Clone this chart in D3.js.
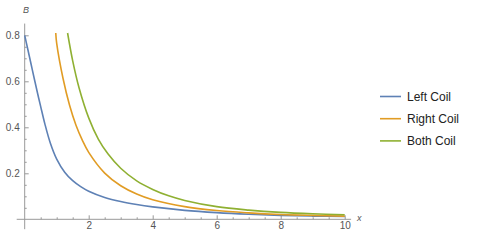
<!DOCTYPE html>
<html>
<head>
<meta charset="utf-8">
<script src="https://cdn.jsdelivr.net/npm/d3@7"></script>
<style>
  body { margin: 0; background: #fff; }
  svg { display: block; }
  text { font-family: "Liberation Sans", Arial, sans-serif; }
</style>
</head>
<body>
<script>
// values
var leftX  = [0, 0.1, 0.2, 0.3, 0.4, 0.5, 0.63, 0.8, 1.0, 1.25, 1.5, 1.75, 2.0, 2.5, 3.0, 3.5, 4.0, 5.0, 6.0, 7.0, 8.0, 9.0, 10];
var leftB  = [0.80, 0.737, 0.674, 0.611, 0.549, 0.49, 0.415, 0.332, 0.262, 0.205, 0.168, 0.142, 0.122, 0.095, 0.077, 0.064, 0.054, 0.039, 0.029, 0.022, 0.017, 0.014, 0.012];
var rightX = [0.97, 1.0, 1.2, 1.4, 1.6, 1.8, 2.0, 2.5, 3.0, 3.5, 4.0, 5.0, 6.0, 7.0, 8.0, 9.0, 10];
var rightB = [0.81, 0.765, 0.611, 0.497, 0.41, 0.344, 0.291, 0.201, 0.146, 0.110, 0.085, 0.055, 0.038, 0.028, 0.021, 0.017, 0.014];
var bothX  = [1.34, 1.5, 1.7, 2.0, 2.3, 2.6, 3.0, 3.5, 4.0, 4.5, 5.0, 6.0, 7.0, 8.0, 9.0, 10];
var bothB  = [0.81, 0.689, 0.571, 0.441, 0.349, 0.285, 0.222, 0.167, 0.130, 0.102, 0.082, 0.055, 0.040, 0.030, 0.024, 0.020];

var seriesNames = ["Left Coil", "Right Coil", "Both Coil"];
var couleurs = ["#5E81B5", "#E19C24", "#8FB032"];
var xTicks = [2, 4, 6, 8, 10];
var yTicks = [0.2, 0.4, 0.6, 0.8];

var series = [
  {name: seriesNames[0], pts: leftX.map((x, i) => [x, leftB[i]])},
  {name: seriesNames[1], pts: rightX.map((x, i) => [x, rightB[i]])},
  {name: seriesNames[2], pts: bothX.map((x, i) => [x, bothB[i]])}
];

var W = 478, H = 246;
var svg = d3.select("body").append("svg")
  .attr("width", W)
  .attr("height", H);

var x = d3.scaleLinear().domain([0, 10]).range([24.7, 344.7]);
var y = d3.scaleLinear().domain([0, 0.8]).range([219.3, 35.3]);

var axisCol = "#999", labelCol = "#555";

// axes lines (they run a bit past the origin, like Mathematica)
svg.append("line")
  .attr("x1", x(-0.25)).attr("x2", x(10.2))
  .attr("y1", y(0)).attr("y2", y(0))
  .attr("stroke", axisCol);
svg.append("line")
  .attr("x1", x(0)).attr("x2", x(0))
  .attr("y1", y(-0.043)).attr("y2", y(0.851))
  .attr("stroke", axisCol);

// minor ticks
var xMinor = d3.range(0.5, 10.01, 0.5).filter(v => xTicks.indexOf(v) < 0);
var yMinor = d3.range(0.05, 0.81, 0.05).filter(v => !yTicks.some(t => Math.abs(t - v) < 1e-6));

var gx = svg.append("g").attr("transform", "translate(0," + y(0) + ")");
gx.call(d3.axisBottom(x).tickValues(xTicks).tickSizeInner(-4).tickSizeOuter(0).tickPadding(3).tickFormat(d3.format("d")));
gx.append("g").call(d3.axisBottom(x).tickValues(xMinor).tickSizeInner(-2).tickSizeOuter(0).tickFormat(""));

var gy = svg.append("g").attr("transform", "translate(" + x(0) + ",0)");
gy.call(d3.axisLeft(y).tickValues(yTicks).tickSizeInner(-4).tickSizeOuter(0).tickPadding(5).tickFormat(d3.format(".1f")));
gy.append("g").call(d3.axisLeft(y).tickValues(yMinor).tickSizeInner(-2).tickSizeOuter(0).tickFormat(""));

svg.selectAll(".domain").remove();
svg.selectAll(".tick line").attr("stroke", axisCol);
svg.selectAll(".tick text")
  .attr("fill", labelCol)
  .style("font-size", "10px")
  .style("font-family", "'Liberation Sans', Arial, sans-serif");

// axis labels
svg.append("text")
  .attr("x", 23).attr("y", 13)
  .attr("fill", labelCol)
  .style("font-size", "9px")
  .style("font-style", "italic")
  .text("B");
svg.append("text")
  .attr("x", 357).attr("y", 221)
  .attr("fill", labelCol)
  .style("font-size", "9px")
  .style("font-style", "italic")
  .text("x");

// curves
var ligne = d3.line()
  .x(d => x(d[0]))
  .y(d => y(d[1]))
  .curve(d3.curveCatmullRom.alpha(0.5));

svg.append("g").selectAll("path")
  .data(series)
  .enter()
  .append("path")
  .attr("d", d => ligne(d.pts))
  .attr("fill", "none")
  .attr("stroke", (d, i) => couleurs[i])
  .attr("stroke-width", 1.6);

// legend
var leg = svg.append("g").attr("transform", "translate(380,96.5)");
var items = leg.selectAll("g")
  .data(seriesNames)
  .enter()
  .append("g")
  .attr("transform", (d, i) => "translate(0," + i * 22.2 + ")");
items.append("line")
  .attr("x1", 0).attr("x2", 21)
  .attr("stroke", (d, i) => couleurs[i])
  .attr("stroke-width", 1.6);
items.append("text")
  .attr("x", 27).attr("y", 4.5)
  .attr("fill", "#222")
  .style("font-size", "12px")
  .text(d => d);
</script>
</body>
</html>
